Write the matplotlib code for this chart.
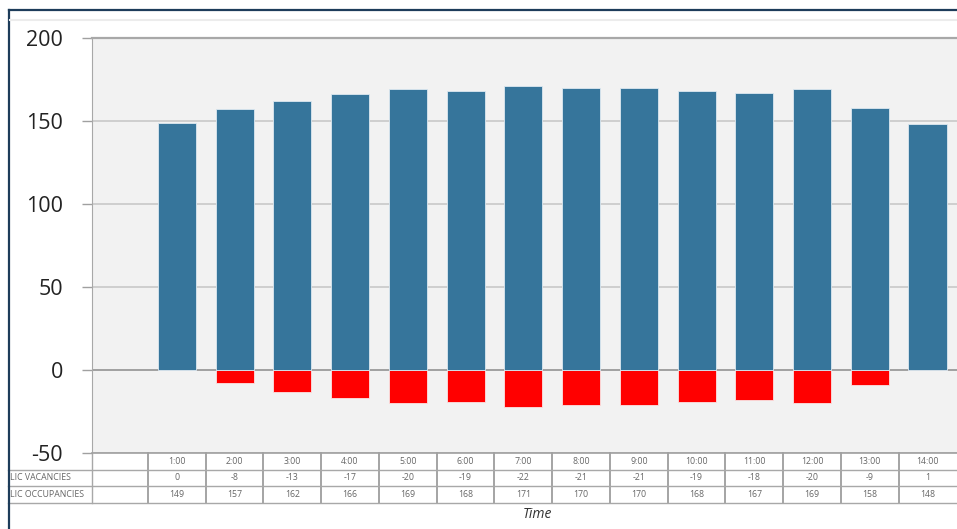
import matplotlib
matplotlib.use('Agg')
import matplotlib.pyplot as plt
from matplotlib.lines import Line2D
import numpy as np

# Data
times = ['1:00', '2:00', '3:00', '4:00', '5:00', '6:00', '7:00',
         '8:00', '9:00', '10:00', '11:00', '12:00', '13:00', '14:00']
vacancies = [0, -8, -13, -17, -20, -19, -22, -21, -21, -19, -18, -20, -9, 1]
occupancies = [149, 157, 162, 166, 169, 168, 171, 170, 170, 168, 167, 169, 158, 148]
row_labels = ['LIC VACANCIES', 'LIC OCCUPANCIES']

plt.rcParams['font.family'] = ['Open Sans', 'DejaVu Sans']
plt.rcParams['axes.unicode_minus'] = False

W, H = 957, 529
fig = plt.figure(figsize=(W / 100, H / 100), dpi=100)
fig.patch.set_facecolor('white')

# plot area in pixel terms: x 92..957, y 38..453
ax = fig.add_axes([92 / W, (H - 453) / H, (W - 92) / W, (453 - 38) / H])
ax.set_facecolor('#f2f2f2')

x = np.arange(len(times))
ax.bar(x, vacancies, width=0.66, color='#ff0000', edgecolor='#fbe3e3',
       linewidth=0.6, zorder=2)
ax.bar(x, occupancies, width=0.66, color='#36759b', edgecolor='#dce8f0',
       linewidth=0.6, zorder=3)

ax.set_xlim(-1.47, 13.51)
ax.set_ylim(-50, 200)
ax.set_yticks([-50, 0, 50, 100, 150, 200])
ax.set_xticks([])
ax.yaxis.grid(True, color='#c9c9c9', linewidth=1.2, zorder=0)
ax.set_axisbelow(True)
ax.axhline(0, color='#9a9a9a', linewidth=1.2, zorder=1)
ax.tick_params(axis='y', length=7.5, width=1, color='#a0a0a0',
               labelsize=15.5, pad=13.5, labelcolor='#222222')

ax.spines['right'].set_visible(False)
ax.spines['top'].set_color('#a8a8a8')
ax.spines['top'].set_linewidth(1.6)
ax.spines['left'].set_color('#a8a8a8')
ax.spines['bottom'].set_color('#a0a0a0')
ax.spines['bottom'].set_linewidth(1.2)

# data table below the axis (blended: data x, axes y)
trans = ax.get_xaxis_transform()
axh = 453 - 38
def ay(py):
    return (453 - py) / axh

for yline in [469.5, 486, 503]:
    fig.add_artist(Line2D([8 / W, 1], [(H - yline) / H] * 2,
                          color='#a8a8a8', linewidth=1.0))
ax.plot([-1.47, -1.47], [0, ay(503)], transform=trans, color='#a8a8a8',
        linewidth=1.0, clip_on=False)
for i in range(len(times)):
    ax.plot([i - 0.5, i - 0.5], [0, ay(503)], transform=trans,
            color='#959595', linewidth=1.2, clip_on=False)
    ax.text(i, ay(461), times[i], transform=trans, ha='center', va='center',
            fontsize=6.3, color='#666666')
    ax.text(i, ay(478), str(vacancies[i]), transform=trans, ha='center',
            va='center', fontsize=6.3, color='#666666')
    ax.text(i, ay(494.5), str(occupancies[i]), transform=trans, ha='center',
            va='center', fontsize=6.3, color='#666666')

fig.text(10 / W, (H - 478) / H, row_labels[0], ha='left', va='center',
         fontsize=6.3, color='#666666')
fig.text(10 / W, (H - 494.5) / H, row_labels[1], ha='left', va='center',
         fontsize=6.3, color='#666666')

fig.text(537 / W, (H - 514) / H, 'Time', ha='center', va='center',
         fontsize=10, style='italic', color='#333333')

# outer frame of the chart
fig.add_artist(Line2D([8.5 / W, 8.5 / W], [0, (H - 10) / H],
                      color='#1d3c5a', linewidth=1.6))
fig.add_artist(Line2D([8.5 / W, 1], [(H - 10) / H] * 2,
                      color='#1d3c5a', linewidth=1.6))
fig.add_artist(Line2D([10 / W, 1], [(H - 20) / H] * 2,
                      color='#ececec', linewidth=1.5))

fig.savefig('out.png', dpi=100, facecolor='white')
